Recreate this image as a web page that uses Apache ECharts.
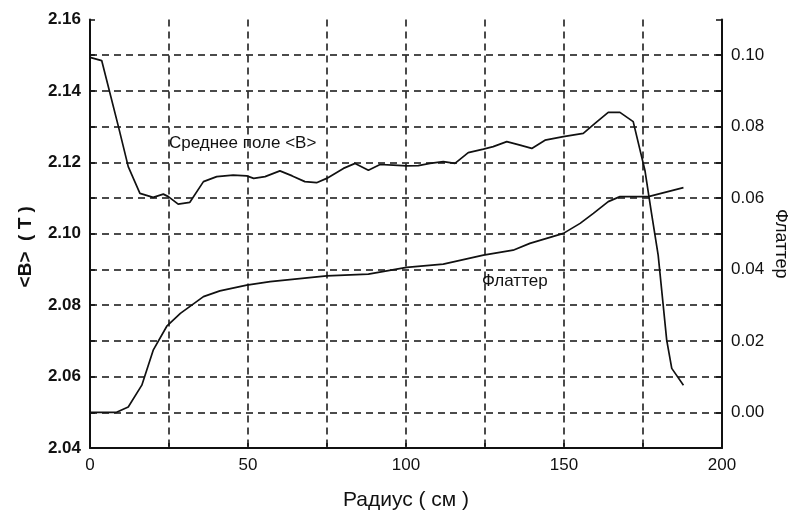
<!DOCTYPE html>
<html>
<head>
<meta charset="utf-8">
<script src="https://cdn.jsdelivr.net/npm/echarts@6/dist/echarts.min.js"></script>
<style>
  html, body { margin: 0; padding: 0; background: #fff; }
  #chart { width: 788px; height: 512px; }
</style>
</head>
<body>
<div id="chart"></div>
<script>
// Mean field <B> (T) versus radius (cm)
const fieldR = [0, 3.7, 9.0, 12.1, 15.8, 20.0, 23.2, 24.8, 27.9, 31.6, 35.9, 40.1, 45.3, 49.6, 51.8,
  55.4, 60.1, 64.0, 68.0, 71.7, 74.9, 80.2, 83.9, 88.1, 91.8, 96.0, 100.2, 103.9, 107.6, 111.8,
  115.5, 119.7, 124.5, 127.6, 131.9, 136.1, 139.8, 144.0, 149.8, 156.1, 159.8, 164.0, 167.7,
  171.9, 175.6, 177.7, 179.8, 182.5, 184.1, 187.8];
const fieldB = [2.1494, 2.1485, 2.1300, 2.1188, 2.1113, 2.1102, 2.1111, 2.1104, 2.1083, 2.1088, 2.1146, 2.1160, 2.1164, 2.1162, 2.1155,
  2.1160, 2.1176, 2.1162, 2.1146, 2.1143, 2.1155, 2.1183, 2.1197, 2.1178, 2.1194, 2.1192, 2.1190, 2.1191, 2.1197, 2.1202,
  2.1197, 2.1227, 2.1237, 2.1244, 2.1258, 2.1248, 2.1239, 2.1262, 2.1272, 2.1281, 2.1309, 2.1340, 2.1340,
  2.1314, 2.1178, 2.1057, 2.0940, 2.0702, 2.0623, 2.0576];

// Flutter versus radius (cm)
const flutterR = [0, 8.4, 12.1, 16.4, 20.0, 24.3, 28.6, 35.9, 41.1, 49.6, 57.0, 74.9, 88.1, 100.2,
  111.8, 124.5, 133.9, 139.2, 149.8, 155.1, 159.3, 164.0, 167.7, 176.7, 187.8];
const flutterF = [0.0000, 0.0000, 0.0015, 0.0076, 0.0174, 0.0241, 0.0277, 0.0324, 0.0340, 0.0356, 0.0366, 0.0382, 0.0387, 0.0406,
  0.0415, 0.0440, 0.0454, 0.0473, 0.0501, 0.0529, 0.0557, 0.0590, 0.0604, 0.0604, 0.0629];

// Tick labels
const xTickLabels = [0, 50, 100, 150, 200];
const leftTickLabels = [2.04, 2.06, 2.08, 2.10, 2.12, 2.14, 2.16];
const rightTickLabels = [0.00, 0.02, 0.04, 0.06, 0.08, 0.10];

const FONT = "'Liberation Sans', Arial, sans-serif";
const dashed = { color: '#111', width: 1.5, type: [7, 5] };

const pairs = (xs, ys) => xs.map((x, i) => [x, ys[i]]);

const chart = echarts.init(document.getElementById('chart'), null, { renderer: 'canvas' });
chart.setOption({
  animation: false,
  backgroundColor: '#fff',
  grid: { left: 90, right: 66, top: 19.5, bottom: 64, containLabel: false, outerBoundsMode: 'none' },
  xAxis: {
    type: 'value', min: 0, max: 200, interval: 25,
    name: 'Радиус ( см )', nameLocation: 'middle', nameGap: 42,
    nameTextStyle: { fontFamily: FONT, fontSize: 21, color: '#111' },
    axisLine: { show: true, onZero: false, lineStyle: { color: '#111', width: 2 } },
    axisTick: { show: true, inside: true, length: 5, lineStyle: { color: '#111', width: 1.5 } },
    axisLabel: { customValues: xTickLabels, margin: 9, fontFamily: FONT, fontSize: 17, color: '#111' },
    splitLine: { show: true, showMinLine: false, showMaxLine: false, lineStyle: dashed }
  },
  yAxis: [
    {
      type: 'value', min: 2.04, max: 2.16, interval: 0.01, position: 'left',
      name: '<B>  ( T )', nameLocation: 'middle', nameGap: 55, nameRotate: 90,
      nameTextStyle: { fontFamily: FONT, fontSize: 19, fontWeight: 'bold', color: '#111', padding: [0, 26, 0, 0] },
      axisLine: { show: true, lineStyle: { color: '#111', width: 2 } },
      axisTick: { show: true, inside: true, length: 5, lineStyle: { color: '#111', width: 1.5 } },
      axisLabel: {
        customValues: leftTickLabels, margin: 9, fontFamily: FONT, fontSize: 17,
        fontWeight: 'bold', color: '#111', formatter: v => v.toFixed(2)
      },
      splitLine: { show: true, showMinLine: false, showMaxLine: false, lineStyle: dashed }
    },
    {
      type: 'value', min: -0.01, max: 0.11, interval: 0.01, position: 'right',
      name: 'Флаттер', nameLocation: 'middle', nameGap: 50, nameRotate: -90, nameMoveOverlap: false,
      nameTextStyle: { fontFamily: FONT, fontSize: 18, color: '#111', padding: [0, 0, 0, 20] },
      axisLine: { show: true, lineStyle: { color: '#111', width: 2 } },
      axisTick: { show: true, inside: true, length: 6, lineStyle: { color: '#111', width: 1.5 } },
      axisLabel: {
        customValues: rightTickLabels, margin: 9, fontFamily: FONT, fontSize: 17,
        color: '#111', formatter: v => v.toFixed(2)
      },
      splitLine: { show: false }
    }
  ],
  graphic: [
    { type: 'text', left: 169, top: 135, style: { text: 'Среднее поле <B>', font: "17px 'Liberation Sans', Arial, sans-serif", fill: '#111' } },
    { type: 'text', left: 482, top: 273, style: { text: 'Флаттер', font: "17px 'Liberation Sans', Arial, sans-serif", fill: '#111' } }
  ],
  series: [
    {
      name: 'Среднее поле <B>', type: 'line', yAxisIndex: 0, data: pairs(fieldR, fieldB),
      showSymbol: false, lineStyle: { color: '#111', width: 1.7 }, z: 5
    },
    {
      name: 'Флаттер', type: 'line', yAxisIndex: 1, data: pairs(flutterR, flutterF),
      showSymbol: false, lineStyle: { color: '#111', width: 1.7 }, z: 5
    }
  ]
});
</script>
</body>
</html>
